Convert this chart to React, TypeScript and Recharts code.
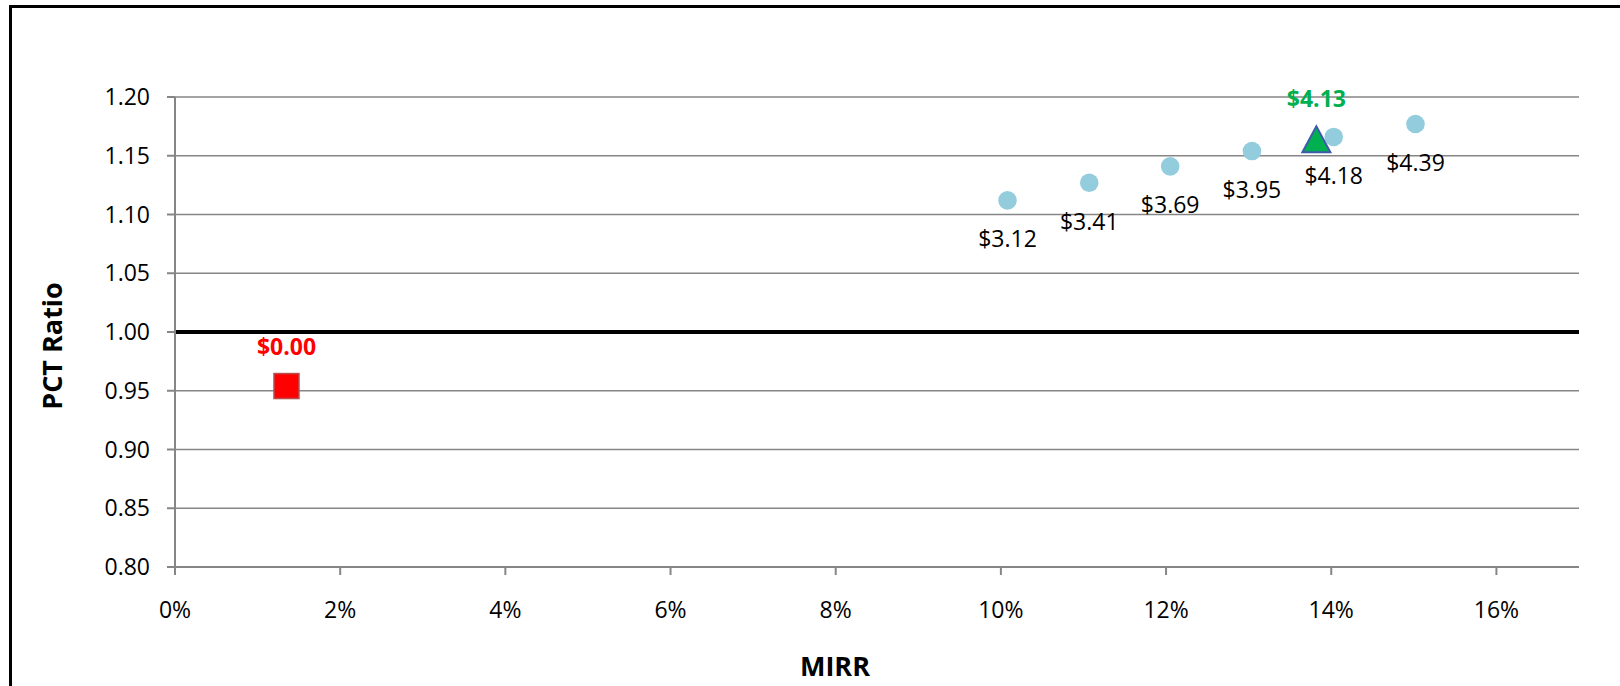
import { ScatterChart, Scatter, XAxis, YAxis, CartesianGrid, ReferenceLine, Label } from 'recharts'

// MIRR (%) vs PCT ratio for each price level
const priceLabels = ['$3.12', '$3.41', '$3.69', '$3.95', '$4.18', '$4.39']
const mirrValues = [10.08, 11.07, 12.05, 13.04, 14.03, 15.02]
const pctRatios = [1.112, 1.127, 1.141, 1.154, 1.166, 1.177]

const currentLabel = ['$4.13']
const currentMirr = [13.82]
const currentRatio = [1.164]

const baseLabel = ['$0.00']
const baseMirr = [1.35]
const baseRatio = [0.954]

const xTicks = [0, 2, 4, 6, 8, 10, 12, 14, 16]
const yTicks = [0.8, 0.85, 0.9, 0.95, 1.0, 1.05, 1.1, 1.15, 1.2]

const toPoints = (labels: string[], xs: number[], ys: number[]) =>
  labels.map((label, i) => ({ label, mirr: xs[i], ratio: ys[i] }))

const priceData = toPoints(priceLabels, mirrValues, pctRatios)
const currentData = toPoints(currentLabel, currentMirr, currentRatio)
const baseData = toPoints(baseLabel, baseMirr, baseRatio)

const FONT = '"Open Sans", "Liberation Sans", sans-serif'
const GRID = '#868686'
const tickStyle = { fontSize: 23, fill: '#000', fontFamily: FONT }

const CircleShape = (p: any) => (
  <g>
    <circle cx={p.cx} cy={p.cy} r={9.3} fill="#93CDDD" />
    <text x={p.cx} y={p.cy + 47} textAnchor="middle" fontSize={23} fontFamily={FONT} fill="#000">
      {p.payload.label}
    </text>
  </g>
)

const TriangleShape = (p: any) => (
  <g>
    <polygon
      points={`${p.cx},${p.cy - 13} ${p.cx - 14},${p.cy + 13} ${p.cx + 14},${p.cy + 13}`}
      fill="#00B050"
      stroke="#3E5BA9"
      strokeWidth={2}
    />
    <text x={p.cx} y={p.cy - 32} textAnchor="middle" fontSize={23} fontWeight="bold" fontFamily={FONT} fill="#00B050">
      {p.payload.label}
    </text>
  </g>
)

const SquareShape = (p: any) => (
  <g>
    <rect x={p.cx - 12.5} y={p.cy - 12.5} width={25} height={25} fill="#FF0000" stroke="#B5504E" strokeWidth={1.5} />
    <text x={p.cx} y={p.cy - 31} textAnchor="middle" fontSize={23} fontWeight="bold" fontFamily={FONT} fill="#FF0000">
      {p.payload.label}
    </text>
  </g>
)

const YTitle = (props: any) => {
  const vb = props.viewBox || { x: 0, y: 97, width: 175, height: 470 }
  const cx = vb.x + 51
  const cy = vb.y + vb.height / 2 + 14
  return (
    <text
      x={cx}
      y={cy}
      transform={`rotate(-90, ${cx}, ${cy})`}
      textAnchor="middle"
      dominantBaseline="central"
      fontSize={27}
      fontWeight="bold"
      fontFamily={FONT}
      fill="#000"
    >
      PCT Ratio
    </text>
  )
}

const XTitle = (props: any) => {
  const vb = props.viewBox || { x: 175, y: 567, width: 1404, height: 119 }
  return (
    <text
      x={vb.x + vb.width / 2 - 42}
      y={vb.y + 109}
      textAnchor="middle"
      fontSize={27}
      fontWeight="bold"
      fontFamily={FONT}
      fill="#000"
    >
      MIRR
    </text>
  )
}

export default function App() {
  return (
    <div style={{ position: 'absolute', left: 0, top: 0, width: 1620, height: 686, background: '#fff', overflow: 'hidden' }}>
      <div
        style={{
          position: 'absolute',
          left: 9,
          top: 5,
          width: 1700,
          height: 800,
          border: '3px solid #000',
          boxSizing: 'border-box',
        }}
      />
      <div style={{ position: 'absolute', left: 0, top: 0 }}>
        <ScatterChart width={1620} height={686} margin={{ top: 97, right: 41, bottom: 0, left: 0 }}>
          <CartesianGrid stroke={GRID} strokeWidth={1.5} vertical={false} />
          <XAxis
            type="number"
            dataKey="mirr"
            domain={[0, 17]}
            ticks={xTicks}
            interval={0}
            height={119}
            tick={tickStyle}
            tickFormatter={(v: number) => `${v}%`}
            axisLine={{ stroke: GRID, strokeWidth: 2 }}
            tickLine={{ stroke: GRID, strokeWidth: 2 }}
            tickSize={8}
            tickMargin={27}
          >
            <Label content={XTitle} />
          </XAxis>
          <YAxis
            type="number"
            dataKey="ratio"
            domain={[0.8, 1.2]}
            ticks={yTicks}
            interval={0}
            width={175}
            tick={tickStyle}
            tickFormatter={(v: number) => v.toFixed(2)}
            axisLine={{ stroke: GRID, strokeWidth: 2 }}
            tickLine={{ stroke: GRID, strokeWidth: 2 }}
            tickSize={8}
            tickMargin={17}
          >
            <Label content={YTitle} />
          </YAxis>
          <ReferenceLine y={1} stroke="#000" strokeWidth={4} />
          <Scatter data={priceData} shape={CircleShape} isAnimationActive={false} />
          <Scatter data={currentData} shape={TriangleShape} isAnimationActive={false} />
          <Scatter data={baseData} shape={SquareShape} isAnimationActive={false} />
        </ScatterChart>
      </div>
    </div>
  )
}
